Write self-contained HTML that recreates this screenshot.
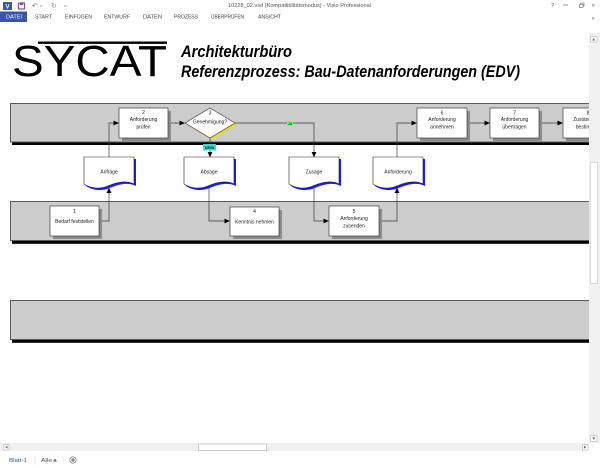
<!DOCTYPE html>
<html><head><meta charset="utf-8"><style>
html,body{margin:0;padding:0;background:#fff;width:600px;height:468px;overflow:hidden}
svg{display:block}
text{font-family:"Liberation Sans",sans-serif}
</style></head><body>
<svg width="600" height="468" viewBox="0 0 600 468" xmlns="http://www.w3.org/2000/svg">
<rect width="600" height="468" fill="#fff"/>
<!-- title bar -->
<rect x="3" y="2" width="9" height="8" fill="#3955a3"/>
<text x="7.5" y="8.6" font-size="6" fill="#fff" text-anchor="middle" font-weight="bold">V</text>
<rect x="18.5" y="3" width="6" height="6" fill="none" stroke="#7b4fa0" stroke-width="1.2"/>
<rect x="20" y="3" width="3" height="2" fill="#7b4fa0"/>
<text x="32" y="8" font-size="7" fill="#777">↶</text>
<text x="40" y="7.5" font-size="4" fill="#999">▾</text>
<text x="51" y="8" font-size="7" fill="#999">↻</text>
<text x="64" y="8" font-size="5" fill="#999">=</text>
<text x="228" y="7" font-size="5.3" fill="#555" textLength="143" lengthAdjust="spacingAndGlyphs">10228_02.vsd  (Kompatibilitätsmodus) - Visio Professional</text>
<text x="551" y="7" font-size="5.5" fill="#666">?</text>
<line x1="563" y1="5" x2="568" y2="5" stroke="#666" stroke-width="0.7"/>
<rect x="580.5" y="3" width="3.5" height="3" fill="none" stroke="#666" stroke-width="0.6"/>
<rect x="579.5" y="4.5" width="3.5" height="3" fill="#fff" stroke="#666" stroke-width="0.6"/>
<text x="591.5" y="7.5" font-size="6" fill="#666">×</text>
<text x="591.5" y="20.5" font-size="6" fill="#666">×</text>
<!-- ribbon tabs -->
<rect x="0" y="11.5" width="27" height="10.5" fill="#3955a3"/>
<g font-size="5" fill="#444">
<text x="6" y="18.7" fill="#fff" textLength="16" lengthAdjust="spacingAndGlyphs">DATEI</text>
<text x="35" y="18.7" textLength="17" lengthAdjust="spacingAndGlyphs">START</text>
<text x="65" y="18.7" textLength="27" lengthAdjust="spacingAndGlyphs">EINFÜGEN</text>
<text x="104" y="18.7" textLength="26" lengthAdjust="spacingAndGlyphs">ENTWURF</text>
<text x="143" y="18.7" textLength="19" lengthAdjust="spacingAndGlyphs">DATEN</text>
<text x="174" y="18.7" textLength="24" lengthAdjust="spacingAndGlyphs">PROZESS</text>
<text x="211" y="18.7" textLength="33" lengthAdjust="spacingAndGlyphs">ÜBERPRÜFEN</text>
<text x="258" y="18.7" textLength="23" lengthAdjust="spacingAndGlyphs">ANSICHT</text>
</g>
<!-- logo -->
<rect x="38" y="41.5" width="129" height="2.4" fill="#000"/>
<text x="12" y="76" font-size="44" fill="#000" textLength="155" lengthAdjust="spacingAndGlyphs">SYCAT</text>
<text x="181" y="57" font-size="17" font-weight="bold" font-style="italic" fill="#000" textLength="111" lengthAdjust="spacingAndGlyphs">Architekturbüro</text>
<text x="181" y="77" font-size="17" font-weight="bold" font-style="italic" fill="#000" textLength="339" lengthAdjust="spacingAndGlyphs">Referenzprozess: Bau-Datenanforderungen (EDV)</text>

<!-- lanes -->
<g>
<rect x="12" y="142" width="580" height="3" fill="#000"/>
<rect x="10.5" y="103.5" width="582" height="38.5" fill="#cccccc" stroke="#5a5a5a" stroke-width="1"/>
<rect x="12" y="241" width="580" height="2.8" fill="#000"/>
<rect x="10.5" y="201.5" width="582" height="39" fill="#cccccc" stroke="#5a5a5a" stroke-width="1"/>
<rect x="12" y="340" width="580" height="2.8" fill="#000"/>
<rect x="10.5" y="300.5" width="582" height="39" fill="#cccccc" stroke="#5a5a5a" stroke-width="1"/>
</g>

<!-- connectors -->
<g stroke="#3a3a3a" stroke-width="0.7" fill="none">
<path d="M99,221 H109 V192"/>
<path d="M109,157 V123 H114"/>
<path d="M168,123 H180"/>
<path d="M235,123 H314 V152"/>
<path d="M210,138 V152"/>
<path d="M209,186 V221 H225"/>
<path d="M314,186 V221 H324"/>
<path d="M379,221 H397 V192"/>
<path d="M397,157 V123 H412"/>
<path d="M467,123 H485"/>
<path d="M539,123 H558"/>
</g>
<g fill="#000">
<polygon points="109,187.5 106.6,193 111.4,193"/>
<polygon points="119,123 113.5,120.6 113.5,125.4"/>
<polygon points="185,123 179.5,120.6 179.5,125.4"/>
<polygon points="314,157.5 311.6,152 316.4,152"/>
<polygon points="210,157.5 207.6,152 212.4,152"/>
<polygon points="230,221 224.5,218.6 224.5,223.4"/>
<polygon points="329,221 323.5,218.6 323.5,223.4"/>
<polygon points="397,187.5 394.6,193 399.4,193"/>
<polygon points="417,123 411.5,120.6 411.5,125.4"/>
<polygon points="490,123 484.5,120.6 484.5,125.4"/>
<polygon points="563,123 557.5,120.6 557.5,125.4"/>
</g>
<!-- labels JA / NEIN -->
<rect x="287" y="121" width="6" height="5" fill="#7cf27c"/>
<text x="290" y="125" font-size="3.8" fill="#063" text-anchor="middle" font-weight="bold">JA</text>
<rect x="203" y="144" width="13" height="6.5" fill="#3ed6d6"/>
<text x="209.5" y="149" font-size="4" fill="#033" text-anchor="middle" font-weight="bold">NEIN</text>

<!-- process boxes -->
<g fill="#8c8c8c">
<rect x="122" y="111" width="49" height="30"/>
<rect x="53" y="209" width="49" height="30"/>
<rect x="233" y="210" width="49" height="29"/>
<rect x="332" y="209" width="50" height="30"/>
<rect x="420" y="111" width="50" height="30"/>
<rect x="493" y="111" width="49" height="30"/>
<rect x="566" y="111" width="50" height="30"/>
</g>
<g fill="#fff" stroke="#222" stroke-width="0.6">
<rect x="119" y="108" width="49" height="30"/>
<rect x="50" y="206" width="49" height="30"/>
<rect x="230" y="207" width="49" height="29"/>
<rect x="329" y="206" width="50" height="30"/>
<rect x="417" y="108" width="50" height="30"/>
<rect x="490" y="108" width="49" height="30"/>
<rect x="563" y="108" width="50" height="30"/>
</g>
<!-- diamond -->
<polygon points="211.5,109.5 236.5,124.5 211.5,139.5 186.5,124.5" fill="#e8e000"/>
<polygon points="210,108 235,123 210,138 185,123" fill="#fff" stroke="#333" stroke-width="0.6"/>

<!-- documents -->
<g>
<path d="M86,159 H136 V186 C130,183 122,183 111,187.5 C101,192 92,190 86,186 Z" fill="#1a1aff"/>
<path d="M84,157 H134 V184 C128,181 120,181 109,185.5 C99,190 90,188 84,184 Z" fill="#fff" stroke="#222" stroke-width="0.6"/>
<path d="M186,159 H236 V186 C230,183 222,183 211,187.5 C201,192 192,190 186,186 Z" fill="#1a1aff"/>
<path d="M184,157 H234 V184 C228,181 220,181 209,185.5 C199,190 190,188 184,184 Z" fill="#fff" stroke="#222" stroke-width="0.6"/>
<path d="M291,159 H341 V186 C335,183 327,183 316,187.5 C306,192 297,190 291,186 Z" fill="#1a1aff"/>
<path d="M289,157 H339 V184 C333,181 325,181 314,185.5 C304,190 295,188 289,184 Z" fill="#fff" stroke="#222" stroke-width="0.6"/>
<path d="M375,159 H425 V186 C419,183 411,183 400,187.5 C390,192 381,190 375,186 Z" fill="#1a1aff"/>
<path d="M373,157 H423 V184 C417,181 409,181 398,185.5 C388,190 379,188 373,184 Z" fill="#fff" stroke="#222" stroke-width="0.6"/>
</g>

<!-- shape texts -->
<g font-size="5" fill="#222" text-anchor="middle">
<text x="143.5" y="114">2</text>
<text x="143.5" y="121">Anforderung</text>
<text x="143.5" y="128.5">prüfen</text>
<text x="210" y="114.5">3</text>
<text x="210" y="123.7">Genehmigung?</text>
<text x="442" y="114.5">6</text>
<text x="442" y="121">Anforderung</text>
<text x="442" y="128.5">annehmen</text>
<text x="514.5" y="114.5">7</text>
<text x="514.5" y="121">Anforderung</text>
<text x="514.5" y="128.5">übertragen</text>
<text x="588" y="114.5">8</text>
<text x="588" y="121">Zuständigkeit</text>
<text x="588" y="128.5">bestimmen</text>
<text x="74.5" y="213">1</text>
<text x="74.5" y="223">Bedarf feststellen</text>
<text x="254.5" y="213">4</text>
<text x="254.5" y="223.5">Kenntnis nehmen</text>
<text x="354" y="213">5</text>
<text x="354" y="220">Anforderung</text>
<text x="354" y="227.5">zusenden</text>
<text x="109" y="173.5">Anfrage</text>
<text x="209" y="173.5">Absage</text>
<text x="314" y="173.5">Zusage</text>
<text x="398" y="173.5">Anforderung</text>
</g>

<!-- vertical scrollbar -->
<rect x="589" y="33" width="11" height="410" fill="#f0f0f0"/>
<rect x="590.5" y="36.5" width="6.5" height="5.5" fill="#fff" stroke="#aaa" stroke-width="0.5"/>
<polygon points="593.7,38 592.2,40.5 595.2,40.5" fill="#666"/>
<rect x="590.5" y="162.5" width="7" height="121" fill="#fff" stroke="#c8c8c8" stroke-width="0.6"/>
<rect x="590.5" y="435.5" width="6.5" height="6" fill="#fff" stroke="#aaa" stroke-width="0.5"/>
<polygon points="593.7,440 592.2,437.5 595.2,437.5" fill="#666"/>
<!-- horizontal scrollbar -->
<rect x="0" y="443" width="589" height="8" fill="#f0f0f0"/>
<rect x="3.5" y="444.5" width="5.5" height="5.5" fill="#fff" stroke="#aaa" stroke-width="0.5"/>
<polygon points="5.2,447.2 7.5,445.8 7.5,448.6" fill="#666"/>
<rect x="198.5" y="444" width="68" height="6.5" fill="#fff" stroke="#b0b0b0" stroke-width="0.6"/>
<rect x="582.5" y="444.5" width="5.5" height="5.5" fill="#fff" stroke="#aaa" stroke-width="0.5"/>
<polygon points="586.3,447.2 584,445.8 584,448.6" fill="#666"/>
<!-- sheet tabs -->
<text x="9" y="462" font-size="5.5" fill="#2b579a" textLength="18" lengthAdjust="spacingAndGlyphs">Blatt-1</text>
<line x1="35" y1="455" x2="35" y2="465" stroke="#ddd" stroke-width="0.6"/>
<text x="41" y="462" font-size="5.5" fill="#555" textLength="11" lengthAdjust="spacingAndGlyphs">Alle</text>
<polygon points="55,458.5 53,461.5 57,461.5" fill="#666"/>
<line x1="64" y1="455" x2="64" y2="465" stroke="#ddd" stroke-width="0.6"/>
<circle cx="73" cy="460" r="3.2" fill="#fff" stroke="#666" stroke-width="0.6"/>
<path d="M73,458 V462 M71,460 H75" stroke="#444" stroke-width="0.8"/>
</svg>
</body></html>
